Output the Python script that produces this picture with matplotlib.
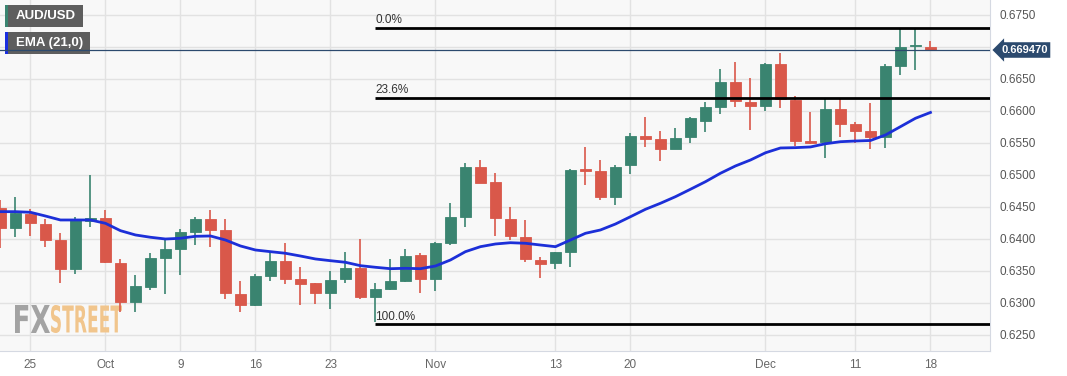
import numpy as np
import pandas as pd
import matplotlib
matplotlib.use("Agg")
import matplotlib.pyplot as plt
import matplotlib.transforms as mtransforms
from matplotlib.patches import Rectangle, PathPatch
from matplotlib.textpath import TextPath
from matplotlib.font_manager import FontProperties

# AUD/USD daily candles, 21 Sep - 18 Dec 2023
dates = pd.bdate_range("2023-09-21", "2023-12-18")

opens = [0.6448, 0.6417, 0.6439, 0.6423, 0.6398, 0.6353, 0.6428, 0.6433, 0.6363, 0.6302,
         0.6325, 0.6370, 0.6385, 0.6411, 0.6431, 0.6414, 0.6314, 0.6297, 0.6342, 0.6365,
         0.6337, 0.6331, 0.6315, 0.6337, 0.6355, 0.6309, 0.6322, 0.6335, 0.6375, 0.6338,
         0.6393, 0.6434, 0.6513, 0.6489, 0.6432, 0.6403, 0.6367, 0.6362, 0.6379, 0.6509,
         0.6506, 0.6466, 0.6515, 0.6561, 0.6556, 0.6541, 0.6559, 0.6584, 0.6607, 0.6645,
         0.6614, 0.6608, 0.6673, 0.6617, 0.6553, 0.6551, 0.6603, 0.6579, 0.6568, 0.6560,
         0.6670, 0.6701, 0.6700]
highs = [0.6461, 0.6466, 0.6447, 0.6431, 0.6409, 0.6434, 0.6500, 0.6445, 0.6368, 0.6344,
         0.6378, 0.6398, 0.6416, 0.6435, 0.6445, 0.6431, 0.6335, 0.6345, 0.6380, 0.6393,
         0.6357, 0.6331, 0.6350, 0.6379, 0.6400, 0.6331, 0.6368, 0.6384, 0.6378, 0.6396,
         0.6456, 0.6518, 0.6523, 0.6503, 0.6450, 0.6430, 0.6372, 0.6379, 0.6510, 0.6543,
         0.6523, 0.6516, 0.6565, 0.6590, 0.6569, 0.6574, 0.6591, 0.6614, 0.6665, 0.6677,
         0.6652, 0.6675, 0.6690, 0.6624, 0.6598, 0.6620, 0.6620, 0.6583, 0.6612, 0.6673,
         0.6728, 0.6728, 0.6709]
lows = [0.6386, 0.6403, 0.6405, 0.6388, 0.6332, 0.6345, 0.6418, 0.6362, 0.6286, 0.6286,
        0.6320, 0.6314, 0.6344, 0.6391, 0.6388, 0.6307, 0.6286, 0.6295, 0.6334, 0.6330,
        0.6297, 0.6298, 0.6290, 0.6332, 0.6306, 0.6270, 0.6320, 0.6333, 0.6315, 0.6318,
        0.6391, 0.6419, 0.6487, 0.6404, 0.6398, 0.6364, 0.6339, 0.6353, 0.6356, 0.6484,
        0.6461, 0.6453, 0.6501, 0.6544, 0.6522, 0.6541, 0.6550, 0.6567, 0.6596, 0.6606,
        0.6571, 0.6600, 0.6604, 0.6545, 0.6548, 0.6526, 0.6559, 0.6550, 0.6540, 0.6542,
        0.6656, 0.6664, 0.6694]
closes = [0.6417, 0.6441, 0.6425, 0.6398, 0.6353, 0.6430, 0.6433, 0.6364, 0.6302, 0.6326,
          0.6370, 0.6384, 0.6411, 0.6431, 0.6414, 0.6315, 0.6297, 0.6342, 0.6365, 0.6337,
          0.6330, 0.6315, 0.6336, 0.6355, 0.6309, 0.6322, 0.6334, 0.6374, 0.6338, 0.6393,
          0.6434, 0.6513, 0.6488, 0.6433, 0.6404, 0.6368, 0.6361, 0.6379, 0.6508, 0.6507,
          0.6466, 0.6513, 0.6561, 0.6557, 0.6541, 0.6558, 0.6589, 0.6606, 0.6645, 0.6615,
          0.6608, 0.6673, 0.6619, 0.6553, 0.6550, 0.6603, 0.6579, 0.6568, 0.6560, 0.6670,
          0.6700, 0.6703, 0.66947]

# EMA (21) as drawn on the chart
ema21 = [0.64427, 0.64427, 0.64417, 0.64359, 0.64297, 0.64297, 0.64297, 0.64245, 0.64130, 0.64063,
         0.64027, 0.64000, 0.64011, 0.64042, 0.64047, 0.63984, 0.63891, 0.63828, 0.63802, 0.63777,
         0.63734, 0.63688, 0.63661, 0.63636, 0.63583, 0.63558, 0.63536, 0.63542, 0.63536, 0.63578,
         0.63672, 0.63802, 0.63880, 0.63922, 0.63942, 0.63933, 0.63906, 0.63880, 0.63984, 0.64089,
         0.64141, 0.64234, 0.64348, 0.64464, 0.64558, 0.64661, 0.64777, 0.64895, 0.65027, 0.65141,
         0.65234, 0.65347, 0.65422, 0.65427, 0.65438, 0.65488, 0.65520, 0.65531, 0.65539, 0.65625,
         0.65755, 0.65886, 0.65977]

fib_low, fib_high = 0.6267, 0.6730
fib_ratios = [0.0, 0.236, 1.0]
fib_labels = ["0.0%", "23.6%", "100.0%"]
fib_start = "2023-10-26"

last_price = 0.669470

y_ticks = [0.6250, 0.6300, 0.6350, 0.6400, 0.6450, 0.6500, 0.6550, 0.6600, 0.6650, 0.6700, 0.6750]
tick_dates = ["2023-09-25", "2023-10-02", "2023-10-09", "2023-10-16", "2023-10-23",
              "2023-11-01", "2023-11-13", "2023-11-20", "2023-12-01", "2023-12-11", "2023-12-18"]
tick_labels = ["25", "Oct", "9", "16", "23", "Nov", "13", "20", "Dec", "11", "18"]

GREEN = "#3a8470"
RED = "#d9584a"
W, H = 1067, 376

fig = plt.figure(figsize=(W / 100, H / 100), dpi=100, facecolor="white")
ax = fig.add_axes([0, 1 - 351 / H, 990 / W, 351 / H])
ax.set_facecolor("#f8f8f8")

x = np.arange(len(dates))
o = np.array(opens); c = np.array(closes)
hi = np.array(highs); lo = np.array(lows)
up = c >= o
cols = np.where(up, GREEN, RED)

ax.vlines(x, lo, hi, colors=cols, linewidth=1.2, zorder=3)
body_bottom = np.minimum(o, c)
body_h = np.maximum(np.abs(c - o), 0.00006)
ax.bar(x, body_h, bottom=body_bottom, width=0.78, color=cols, edgecolor=cols,
       linewidth=0.6, zorder=4)

ax.plot(x, ema21, color="#1c2fd8", linewidth=2, zorder=5)

# Fibonacci levels
fx0 = dates.get_loc(pd.Timestamp(fib_start))
for r, lab in zip(fib_ratios, fib_labels):
    lvl = fib_high - r * (fib_high - fib_low)
    ax.plot([fx0, 70], [lvl, lvl], color="black", linewidth=2, zorder=6,
            solid_capstyle="butt")
    ax.text(fx0, lvl + 0.00025, lab, fontsize=8.5, color="#333333",
            family="Liberation Sans", va="bottom", ha="left", zorder=6)

# current price line
ax.axhline(last_price, color="#2c4a6e", linewidth=0.9, zorder=7)

ax.set_xlim(-0.03, 65.97)
ax.set_ylim(0.6225, 0.67734)

ax.yaxis.tick_right()
ax.set_yticks(y_ticks)
# the price tag covers the 0.6700 label
ax.set_yticklabels(["" if abs(v - 0.67) < 1e-9 else f"{v:.4f}" for v in y_ticks])
tick_pos = [dates.get_loc(pd.Timestamp(d)) for d in tick_dates]
ax.set_xticks(tick_pos)
ax.set_xticklabels(tick_labels)
ax.tick_params(axis="y", length=0, pad=7, labelsize=8.5, labelcolor="#555555")
ax.tick_params(axis="x", length=0, pad=6, labelsize=8.5, labelcolor="#666666")
for lab in ax.get_xticklabels() + ax.get_yticklabels():
    lab.set_family("Liberation Sans")
ax.grid(True, color="#e2e2e2", linewidth=1, zorder=0)
ax.set_axisbelow(True)
for s in ["top", "left"]:
    ax.spines[s].set_visible(False)
for s in ["right", "bottom"]:
    ax.spines[s].set_color("#d5d9e2")

# watermark
fp = FontProperties(family="DejaVu Sans", weight="bold")
for word, color, x0, x1 in [("FX", "#a3a3a3", 15, 50), ("STREET", "#f1c58c", 51, 122)]:
    tp = TextPath((0, 0), word, size=40, prop=fp)
    ext = tp.get_extents()
    sx = (x1 - x0) / ext.width
    sy = 28 / ext.height
    tr = mtransforms.Affine2D().translate(-ext.x0, -ext.y0).scale(sx, sy).translate(x0, H - 333)
    patch = PathPatch(tp, facecolor=color, edgecolor="none", transform=tr, zorder=1)
    ax.add_patch(patch)

# legend boxes
for label, bar_col, y0, y1, x1 in [("AUD/USD", GREEN, 5, 27, 83), ("EMA (21,0)", "#1a2ee0", 32, 54, 90)]:
    ax.add_patch(Rectangle((5 / W, 1 - y1 / H), (x1 - 5) / W, (y1 - y0) / H,
                           transform=fig.transFigure, facecolor="#5e5e5e",
                           edgecolor="none", zorder=6.5, clip_on=False))
    ax.add_patch(Rectangle((5 / W, 1 - y1 / H), 3 / W, (y1 - y0) / H,
                           transform=fig.transFigure, facecolor=bar_col,
                           edgecolor="none", zorder=6.6, clip_on=False))
    ax.text(16 / W, 1 - (y0 + y1) / 2 / H, label, transform=fig.transFigure,
            color="white", fontsize=9.5, fontweight="bold", family="Liberation Sans",
            va="center", ha="left", zorder=6.7)

# last price tag
fig.text(1001 / W, 1 - 50 / H, f"{last_price:.6f}", color="white", fontsize=8,
         fontweight="bold", family="Liberation Sans", va="center", ha="left",
         bbox=dict(boxstyle="larrow,pad=0.25", facecolor="#2c4a6e", edgecolor="none"))

fig.savefig("out.png", dpi=100, facecolor="white")
